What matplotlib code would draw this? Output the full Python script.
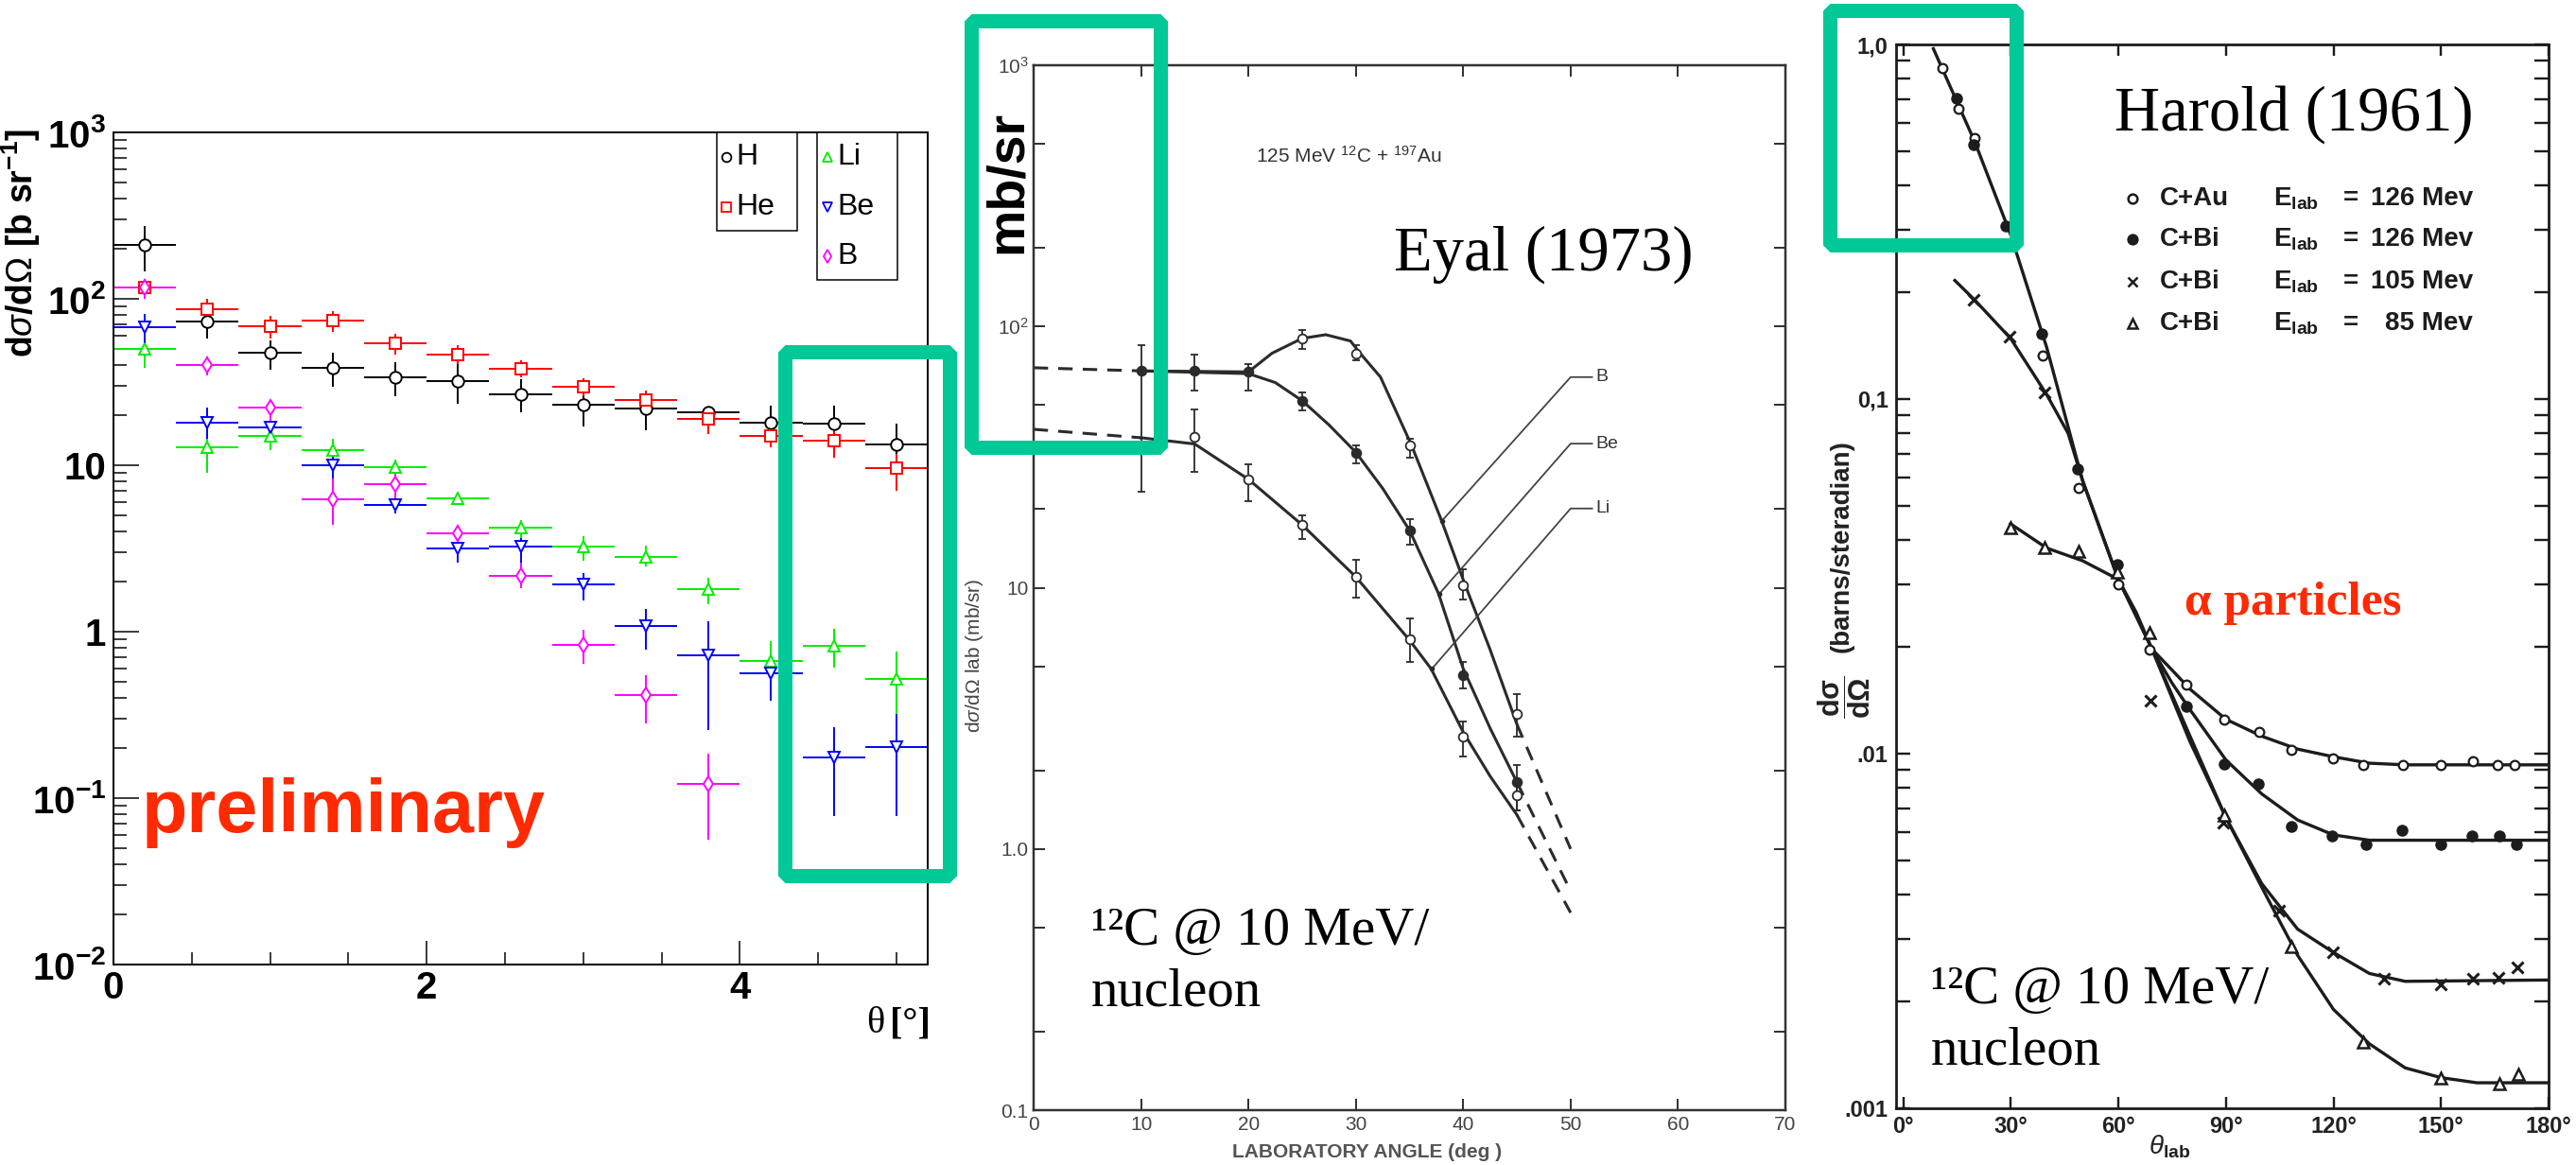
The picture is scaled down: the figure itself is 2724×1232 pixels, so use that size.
import matplotlib.pyplot as plt
import numpy as np
from matplotlib.patches import Rectangle
from matplotlib.lines import Line2D

plt.rcParams['font.family'] = ['Liberation Sans', 'DejaVu Sans']
plt.rcParams['mathtext.fontset'] = 'custom'
plt.rcParams['mathtext.rm'] = 'Liberation Sans'
plt.rcParams['mathtext.bf'] = 'Liberation Sans:bold'
plt.rcParams['mathtext.it'] = 'Liberation Sans:italic'

W, H = 2724, 1232
PX = 0.72  # points per pixel at dpi 100

# ---------------- fragment cross sections (0.4 deg bins) ----------------
theta = [0.2, 0.6, 1.0, 1.4, 1.8, 2.2, 2.6, 3.0, 3.4, 3.8, 4.2, 4.6, 5.0]

h_val = [212, 72.6, 47.2, 38.4, 33.7, 32.1, 26.7, 23.1, 22.0, 20.7, 18.1, 17.7, 13.3]
h_lo = [147, 58.1, 37.4, 29.6, 26.1, 23.5, 20.7, 17.2, 16.3, 18.6, 14.8, 13.7, 10.0]
h_hi = [274, 83.4, 56.6, 47.2, 41.5, 41.5, 32.9, 28.1, 26.7, 22.3, 22.9, 22.9, 17.7]

he_val = [116.7, 86.9, 68.6, 74.1, 54.3, 46.0, 38.0, 29.7, 24.7, 19.1, 15.1, 14.0, 9.6]
he_lo = [105, 77, 58, 63.4, 46.5, 40.4, 33.7, 26.1, 21.8, 15.5, 12.9, 11.1, 7.0]
he_hi = [132, 100, 79, 84.7, 61.8, 52.4, 42.6, 33.4, 28.1, 21.8, 17.2, 16.3, 11.7]

li_val = [49.8, 12.8, 15.1, 12.3, 9.75, 6.34, 4.19, 3.24, 2.81, 1.80, 0.663, 0.823, 0.523]
li_lo = [38.4, 9.0, 12.3, 11.1, 8.8, 5.8, 3.6, 2.67, 2.47, 1.47, 0.504, 0.606, 0.32]
li_hi = [59.6, 15.5, 16.8, 14.4, 10.8, 6.9, 4.7, 3.74, 3.27, 2.11, 0.877, 1.04, 0.76]

be_val = [67.8, 18.1, 16.8, 10.0, 5.81, 3.16, 3.25, 1.93, 1.08, 0.717, 0.56, 0.175, 0.202]
be_lo = [52.4, 14.4, 15.1, 7.9, 5.14, 2.61, 2.61, 1.54, 0.78, 0.257, 0.387, 0.0776, 0.0776]
be_hi = [81.3, 22.3, 18.1, 11.6, 6.45, 3.65, 3.65, 2.26, 1.36, 1.16, 0.69, 0.268, 0.322]

theta_b = [0.2, 0.6, 1.0, 1.4, 1.8, 2.2, 2.6, 3.0, 3.4, 3.8]
b_val = [116.7, 40.0, 22.3, 6.28, 7.73, 3.88, 2.17, 0.832, 0.415, 0.121]
b_lo = [100, 34.6, 18.6, 4.37, 6.28, 3.30, 1.83, 0.64, 0.282, 0.0565]
b_hi = [132, 44.9, 24.7, 8.34, 9.01, 4.37, 2.6, 1.03, 0.545, 0.185]

# ---------------- Eyal (1973), 125 MeV 12C + 197Au ----------------
eyal_b_deg = [25, 30, 35, 40, 45]
eyal_b = [90, 79, 35, 10.2, 3.3]
eyal_b_lo = [82, 74, 31.5, 9.0, 2.7]
eyal_b_hi = [97, 85, 37.2, 11.8, 3.9]

eyal_be_deg = [10, 15, 20, 25, 30, 35, 40, 45]
eyal_be = [67.6, 67.6, 67, 51.8, 32.7, 16.6, 4.64, 1.8]
eyal_be_lo = [23.4, 57, 57, 47.6, 30, 14.6, 4.1, 1.4]
eyal_be_hi = [84.7, 78, 71.5, 56, 35, 18.3, 5.2, 2.1]

eyal_li_deg = [15, 20, 25, 30, 35, 40, 45]
eyal_li = [37.9, 25.9, 17.4, 11.0, 6.34, 2.70, 1.6]
eyal_li_lo = [27.7, 21.5, 15.3, 9.2, 5.2, 2.25, 1.4]
eyal_li_hi = [48, 29.6, 18.9, 12.8, 7.65, 3.08, 1.84]

fit_b_deg = [10, 20, 22.2, 25, 27.2, 29.5, 30.4, 32.3, 35.2, 38, 40.2, 42.5, 45]
fit_b = [67.6, 67, 79, 90, 93, 88, 79, 64, 35, 18, 10.2, 5.8, 3.0]
fit_be_deg = [10, 20, 22.5, 25, 27.5, 30, 32.5, 35, 37.7, 40, 42.5, 45]
fit_be = [67.6, 66, 61, 52, 42, 33, 24, 16.6, 9.5, 4.9, 2.9, 1.8]
fit_li_deg = [10, 15, 20, 25, 30, 35, 37, 40, 42.5, 45]
fit_li = [37.5, 35.5, 26, 17.4, 11, 6.3, 4.9, 2.8, 1.9, 1.35]

ext_left_deg = [0, 10]
ext_bbe = [69.5, 67.6]
ext_li = [40.4, 37.5]
ext_right_deg = [45, 50]
ext_b = [3.0, 1.0]
ext_be = [1.8, 0.69]
ext_li_r = [1.35, 0.57]

eyal_tags = ['B', 'Be', 'Li']
tag_y = [64, 35.6, 20.1]
tag_target = [(38.0, 18), (37.8, 9.5), (37.1, 4.9)]

# ---------------- Harold (1961), alpha particles ----------------
au126_deg = [10.8, 15.4, 19.8, 38.9, 48.9, 60.1, 68.7, 79.1, 89.6, 99.2, 108.2,
             119.8, 128.4, 139.4, 149.8, 158.9, 165.8, 170.6]
au126 = [0.856, 0.66, 0.544, 0.133, 0.0561, 0.030, 0.0197, 0.0157, 0.01247, 0.0115,
         0.01027, 0.0097, 0.00931, 0.0093, 0.0093, 0.0095, 0.0093, 0.0093]
bi126_deg = [14.9, 19.5, 28.5, 38.6, 48.6, 59.7, 79.1, 89.6, 98.9, 108.2, 119.5,
             129.0, 139.2, 149.8, 158.6, 166.2, 171.0]
bi126 = [0.706, 0.521, 0.307, 0.153, 0.0635, 0.0341, 0.0136, 0.00937, 0.00822,
         0.00624, 0.00586, 0.00554, 0.00608, 0.00554, 0.00586, 0.00586, 0.00554]
bi105_deg = [19.5, 29.6, 39.3, 68.9, 89.3, 104.8, 119.8, 134.0, 149.8, 158.9, 166.0, 171.3]
bi105 = [0.191, 0.150, 0.1044, 0.0141, 0.00639, 0.00361, 0.00275, 0.00232, 0.00223,
         0.00232, 0.00233, 0.0025]
bi85_deg = [29.9, 39.3, 49.0, 59.7, 68.7, 89.6, 108.2, 128.4, 149.8, 166.2, 171.5]
bi85 = [0.0435, 0.0381, 0.0372, 0.0325, 0.022, 0.0067, 0.00286, 0.00154, 0.00122,
        0.00117, 0.00125]

curve_au_deg = [8.4, 20, 30, 40, 50, 60, 65, 69.4, 75, 80, 90, 100, 110, 120, 130, 140, 180]
curve_au = [0.973, 0.53, 0.29, 0.14, 0.059, 0.031, 0.025, 0.0197, 0.0172, 0.0152,
            0.0125, 0.0112, 0.0103, 0.0098, 0.0094, 0.0093, 0.0093]
curve_bi126_deg = [69.4, 75, 80, 90, 100, 110, 120, 130, 180]
curve_bi126 = [0.0197, 0.0158, 0.0133, 0.0096, 0.0077, 0.0065, 0.0059, 0.0057, 0.0057]
curve_bi105_deg = [14.4, 20, 30, 40, 46, 50, 60, 69.4, 80, 90, 100, 110, 120, 130, 140, 180]
curve_bi105 = [0.216, 0.19, 0.148, 0.103, 0.08, 0.059, 0.031, 0.0197, 0.0108, 0.0066,
               0.0043, 0.0032, 0.00275, 0.0024, 0.00228, 0.0023]
curve_bi85_deg = [29.9, 40, 50, 60, 65, 69.4, 80, 90, 100, 110, 120, 130, 140, 150, 160, 180]
curve_bi85 = [0.0445, 0.038, 0.035, 0.031, 0.0245, 0.0197, 0.0112, 0.0066, 0.0042,
              0.0027, 0.0019, 0.00152, 0.0013, 0.00122, 0.00118, 0.00118]

harold_sys = ['C+Au', 'C+Bi', 'C+Bi', 'C+Bi']
harold_e = ['126 Mev', '126 Mev', '105 Mev', '85 Mev']


def axes_px(x0, y0, x1, y1):
    return fig.add_axes([x0 / W, 1 - y1 / H, (x1 - x0) / W, (y1 - y0) / H])


def txt(x, y, s, **kw):
    return fig.text(x / W, 1 - y / H, s, **kw)


def green_box(x0, y0, x1, y1):
    r = Rectangle((x0 / W, 1 - y1 / H), (x1 - x0) / W, (y1 - y0) / H,
                  transform=fig.transFigure, fill=False, ec='#00c897',
                  lw=15 * PX, joinstyle='bevel', zorder=20)
    fig.add_artist(r)


fig = plt.figure(figsize=(W / 100, H / 100), dpi=100)

# ================= left: ROOT style plot =================
ax1 = axes_px(120, 140, 981, 1020)
ax1.set_yscale('log')
ax1.set_xlim(0, 5.2)
ax1.set_ylim(1e-2, 1e3)

series = [
    (theta, h_val, h_lo, h_hi, 'o', 'black', 9),
    (theta, he_val, he_lo, he_hi, 's', '#ff0000', 9),
    (theta, li_val, li_lo, li_hi, '^', '#00ee00', 9),
    (theta, be_val, be_lo, be_hi, 'v', '#0000ff', 9),
    (theta_b, b_val, b_lo, b_hi, 'd', '#ff00ff', 8),
]
for x, v, lo, hi, m, c, ms in series:
    v = np.array(v)
    ax1.errorbar(x, v, xerr=0.2, yerr=[v - np.array(lo), np.array(hi) - v],
                 fmt=m, ms=ms, mfc='white', mec=c, mew=1.4, ecolor=c,
                 elinewidth=1.4, capsize=0)

for s in ax1.spines.values():
    s.set_linewidth(2 * PX)
ax1.set_xticks([0, 2, 4])
ax1.set_xticklabels(['0', '2', '4'])
ax1.set_xticks([0.5, 1, 1.5, 2.5, 3, 3.5, 4.5, 5], minor=True)
ax1.set_yticks([1e-2, 1e-1, 1, 10, 1e2, 1e3])
ax1.set_yticklabels([r'$\mathbf{10^{-2}}$', r'$\mathbf{10^{-1}}$', '1', '10',
                     r'$\mathbf{10^{2}}$', r'$\mathbf{10^{3}}$'])
ax1.yaxis.set_minor_locator(plt.matplotlib.ticker.LogLocator(base=10, subs=range(2, 10)))
ax1.yaxis.set_minor_formatter(plt.NullFormatter())
ax1.tick_params(which='both', direction='in', top=False, right=False, width=1.5 * PX)
ax1.tick_params(axis='y', which='major', length=27 * PX, pad=8 * PX, labelsize=29)
ax1.tick_params(axis='y', which='minor', length=14 * PX)
ax1.tick_params(axis='x', which='major', length=25 * PX, pad=6 * PX, labelsize=29)
ax1.tick_params(axis='x', which='minor', length=13 * PX)
for lab in ax1.get_xticklabels() + ax1.get_yticklabels():
    lab.set_fontweight('bold')

txt(22, 257, r'd$\sigma$/d$\Omega$ [b sr$^{\mathbf{-1}}$]', rotation=90, ha='center',
    va='center', fontsize=27, fontweight='bold',
    family=['Liberation Sans', 'DejaVu Sans'])
txt(984, 1083, '[°]', ha='right', va='center', fontsize=29, fontweight='bold',
    family='Liberation Serif')
txt(935, 1083, 'θ', ha='right', va='center', fontsize=29, family='Liberation Serif')
txt(150, 880, 'preliminary', ha='left', va='baseline', fontsize=57,
    fontweight='bold', color='#ff2a00')

# legend boxes
for (x0, y0, x1, y1) in [(758, 140, 843, 244), (864, 140, 949, 296)]:
    fig.add_artist(Rectangle((x0 / W, 1 - y1 / H), (x1 - x0) / W, (y1 - y0) / H,
                             transform=fig.transFigure, fill=True, fc='white',
                             ec='black', lw=1.5 * PX, zorder=5))
legend_rows = [('H', 'o', 'black', 768, 166), ('He', 's', '#ff0000', 768, 219),
               ('Li', '^', '#00ee00', 875, 166), ('Be', 'v', '#0000ff', 875, 219),
               ('B', 'd', '#ff00ff', 875, 271)]
for name, m, c, x, y in legend_rows:
    fig.add_artist(Line2D([x / W], [1 - y / H], marker=m, ms=7, mfc='white', mec=c,
                          mew=1.3, transform=fig.transFigure, zorder=6))
    txt(x + 10, y, name, ha='left', va='center', fontsize=23, zorder=6)

green_box(829.5, 372, 1003.5, 925.5)

# ================= middle: Eyal (1973) =================
ink = '#2b2b2b'
ax2 = axes_px(1093, 69, 1888, 1174)
ax2.set_yscale('log')
ax2.set_xlim(0, 70)
ax2.set_ylim(0.1, 1000)

ax2.plot(fit_b_deg, fit_b, color=ink, lw=2.2)
ax2.plot(fit_be_deg, fit_be, color=ink, lw=2.2)
ax2.plot(fit_li_deg, fit_li, color=ink, lw=2.2)
dash = (0, (5, 3.5))
ax2.plot(ext_left_deg, ext_bbe, color=ink, lw=2.2, ls=dash)
ax2.plot(ext_left_deg, ext_li, color=ink, lw=2.2, ls=dash)
ax2.plot(ext_right_deg, ext_b, color=ink, lw=2.2, ls=dash)
ax2.plot(ext_right_deg, ext_be, color=ink, lw=2.2, ls=dash)
ax2.plot(ext_right_deg, ext_li_r, color=ink, lw=2.2, ls=dash)

for d, v, lo, hi, fc in [(eyal_b_deg, eyal_b, eyal_b_lo, eyal_b_hi, 'white'),
                          (eyal_be_deg, eyal_be, eyal_be_lo, eyal_be_hi, ink),
                          (eyal_li_deg, eyal_li, eyal_li_lo, eyal_li_hi, 'white')]:
    v = np.array(v)
    ax2.errorbar(d, v, yerr=[v - np.array(lo), np.array(hi) - v], fmt='o', ms=7,
                 mfc=fc, mec=ink, mew=1.3, ecolor=ink, elinewidth=1.3,
                 capsize=3, capthick=1.3, zorder=4)

for tag, ty, (tx, tv) in zip(eyal_tags, tag_y, tag_target):
    ax2.plot([tx, 50, 52], [tv, ty, ty], color='#444444', lw=1.3)
    ax2.plot([tx], [tv], 'o', ms=3, color=ink)
    ax2.text(52.3, ty, tag, ha='left', va='center', fontsize=14, color='#333333')

for s in ax2.spines.values():
    s.set_linewidth(2.5 * PX)
    s.set_color('#333333')
ax2.set_xticks(range(0, 71, 10))
ax2.set_yticks([0.1, 1, 10, 100, 1000])
ax2.set_yticklabels(['0.1', '1.0', '10', r'$10^{2}$', r'$10^{3}$'])
ax2.set_yticks([0.2, 0.5, 2, 5, 20, 50, 200, 500], minor=True)
ax2.yaxis.set_minor_formatter(plt.NullFormatter())
ax2.tick_params(which='both', direction='in', top=True, right=True, length=12 * PX,
                width=2 * PX, color='#333333', labelcolor='#444444', labelsize=15,
                pad=4)

txt(1426, 165, r'125 MeV $^{12}$C + $^{197}$Au', ha='center', va='center',
    fontsize=15, color='#333333')
txt(1031, 693, r'd$\sigma$/d$\Omega$ lab (mb/sr)', rotation=90, ha='center',
    va='center', fontsize=15, color='#444444')
txt(1446, 1218, 'LABORATORY ANGLE (deg )', ha='center', va='center', fontsize=15,
    fontweight='bold', color='#555555')
txt(1066, 192, 'mb/sr', rotation=90, ha='center', va='center', fontsize=40,
    fontweight='bold', color='black')
txt(1474, 286, 'Eyal (1973)', ha='left', va='baseline', fontsize=48,
    family='Liberation Serif')
txt(1154, 999, '¹²C @ 10 MeV/', ha='left', va='baseline', fontsize=41,
    family='Liberation Serif')
txt(1154, 1063, 'nucleon', ha='left', va='baseline', fontsize=41,
    family='Liberation Serif')

green_box(1027, 22.5, 1227, 472.5)

# ================= right: Harold (1961) =================
ink3 = '#1c1c1c'
ax3 = axes_px(2005, 47, 2695, 1172)
ax3.set_yscale('log')
ax3.set_xlim(-2, 180)
ax3.set_ylim(1e-3, 1)

for d, v in [(curve_au_deg, curve_au), (curve_bi126_deg, curve_bi126),
             (curve_bi105_deg, curve_bi105), (curve_bi85_deg, curve_bi85)]:
    ax3.plot(d, v, color=ink3, lw=2.4)
ax3.plot(au126_deg, au126, 'o', ms=7, mfc='white', mec=ink3, mew=1.6, zorder=4)
ax3.plot(bi126_deg, bi126, 'o', ms=8, mfc=ink3, mec=ink3, zorder=4)
ax3.plot(bi105_deg, bi105, 'x', ms=8, mec=ink3, mew=2.2, zorder=4)
ax3.plot(bi85_deg, bi85, '^', ms=8, mfc='white', mec=ink3, mew=1.8, zorder=4)

for s in ax3.spines.values():
    s.set_linewidth(2.8 * PX)
    s.set_color(ink3)
ax3.set_xticks(range(0, 181, 30))
ax3.set_xticklabels([f'{a}°' for a in range(0, 181, 30)])
ax3.set_yticks([1e-3, 1e-2, 1e-1, 1])
ax3.set_yticklabels(['.001', '.01', '0,1', '1,0'])
ax3.yaxis.set_minor_locator(plt.matplotlib.ticker.LogLocator(base=10, subs=range(2, 10)))
ax3.yaxis.set_minor_formatter(plt.NullFormatter())
ax3.tick_params(which='both', direction='in', top=True, right=True, width=2.4 * PX,
                color=ink3, labelcolor='#222222', labelsize=17, pad=6)
ax3.tick_params(axis='y', which='both', length=15 * PX)
ax3.tick_params(axis='x', which='major', length=12 * PX)
for lab in ax3.get_xticklabels() + ax3.get_yticklabels():
    lab.set_fontweight('bold')

markers = [('o', 'white'), ('o', ink3), ('x', ink3), ('^', 'white')]
rows_y = [210, 253, 298, 342]
for (m, fc), sysname, e, y in zip(markers, harold_sys, harold_e, rows_y):
    fig.add_artist(Line2D([2255 / W], [1 - y / H], marker=m, ms=7, mfc=fc, mec=ink3,
                          mew=1.8, transform=fig.transFigure))
    txt(2284, y, sysname, ha='left', va='center', fontsize=20, fontweight='bold',
        color=ink3)
    txt(2404, y, r'E$_{\mathbf{lab}}$', ha='left', va='center', fontsize=20,
        fontweight='bold', color=ink3)
    txt(2478, y, '=', ha='left', va='center', fontsize=20, fontweight='bold', color=ink3)
    txt(2615, y, e, ha='right', va='center', fontsize=20, fontweight='bold', color=ink3)

txt(1950, 737, r'$\mathbf{\dfrac{d\sigma}{d\Omega}}$', rotation=90,
    ha='center', va='center', fontsize=22, color='#222222')
txt(1948, 578, '(barns/steradian)', rotation=90,
    ha='center', va='center', fontsize=20, fontweight='bold', color='#222222')
txt(2294, 1213, r'$\theta_{\mathbf{lab}}$', ha='center', va='center', fontsize=20,
    color='#222222')
txt(2236, 138, 'Harold (1961)', ha='left', va='baseline', fontsize=48,
    family='Liberation Serif')
txt(2425, 650, 'α particles', ha='center', va='baseline', fontsize=37,
    fontweight='bold', color='#ff2a00', family='Liberation Serif')
txt(2042, 1061, '¹²C @ 10 MeV/', ha='left', va='baseline', fontsize=41,
    family='Liberation Serif')
txt(2042, 1126, 'nucleon', ha='left', va='baseline', fontsize=41,
    family='Liberation Serif')

green_box(1934.5, 11.5, 2131.5, 259)

fig.savefig('out.png', dpi=100)
